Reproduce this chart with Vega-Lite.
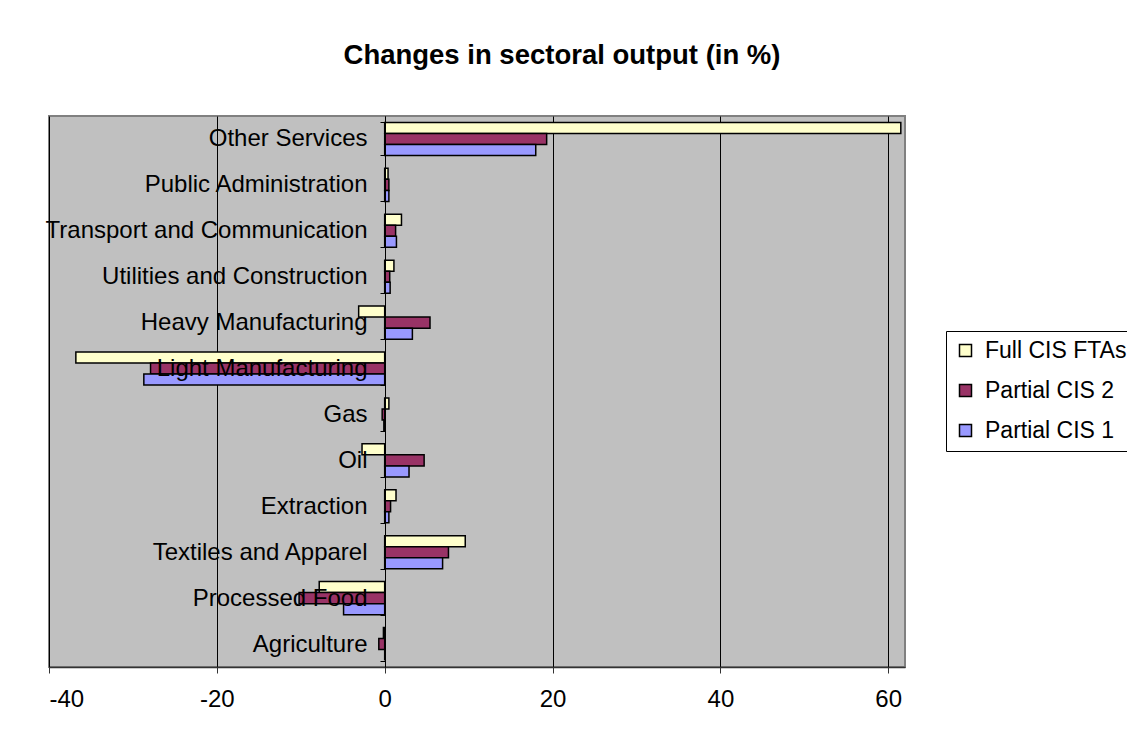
{
  "$schema": "https://vega.github.io/schema/vega-lite/v6.json",
  "autosize": {"type": "none"},
  "padding": {"left": 49, "top": 116, "right": 222, "bottom": 68},
  "width": 856,
  "height": 551,
  "background": "white",
  "title": {
    "text": "Changes in sectoral output (in %)",
    "font": "Liberation Sans",
    "fontSize": 27.5,
    "fontWeight": "bold",
    "color": "black",
    "anchor": "middle",
    "frame": "group",
    "dx": 85,
    "baseline": "bottom",
    "offset": 7
  },
  "data": {
    "values": [
      {"sector": "Other Services", "scenario": "Full CIS FTAs", "value": 61.5},
      {"sector": "Other Services", "scenario": "Partial CIS 2", "value": 19.3},
      {"sector": "Other Services", "scenario": "Partial CIS 1", "value": 18.0},
      {"sector": "Public Administration", "scenario": "Full CIS FTAs", "value": 0.4},
      {"sector": "Public Administration", "scenario": "Partial CIS 2", "value": 0.5},
      {"sector": "Public Administration", "scenario": "Partial CIS 1", "value": 0.5},
      {"sector": "Transport and Communication", "scenario": "Full CIS FTAs", "value": 2.0},
      {"sector": "Transport and Communication", "scenario": "Partial CIS 2", "value": 1.3},
      {"sector": "Transport and Communication", "scenario": "Partial CIS 1", "value": 1.4},
      {"sector": "Utilities and Construction", "scenario": "Full CIS FTAs", "value": 1.1},
      {"sector": "Utilities and Construction", "scenario": "Partial CIS 2", "value": 0.6},
      {"sector": "Utilities and Construction", "scenario": "Partial CIS 1", "value": 0.65},
      {"sector": "Heavy Manufacturing", "scenario": "Full CIS FTAs", "value": -3.1},
      {"sector": "Heavy Manufacturing", "scenario": "Partial CIS 2", "value": 5.4},
      {"sector": "Heavy Manufacturing", "scenario": "Partial CIS 1", "value": 3.3},
      {"sector": "Light Manufacturing", "scenario": "Full CIS FTAs", "value": -36.8},
      {"sector": "Light Manufacturing", "scenario": "Partial CIS 2", "value": -27.9},
      {"sector": "Light Manufacturing", "scenario": "Partial CIS 1", "value": -28.7},
      {"sector": "Gas", "scenario": "Full CIS FTAs", "value": 0.5},
      {"sector": "Gas", "scenario": "Partial CIS 2", "value": -0.3},
      {"sector": "Gas", "scenario": "Partial CIS 1", "value": -0.1},
      {"sector": "Oil", "scenario": "Full CIS FTAs", "value": -2.7},
      {"sector": "Oil", "scenario": "Partial CIS 2", "value": 4.7},
      {"sector": "Oil", "scenario": "Partial CIS 1", "value": 2.9},
      {"sector": "Extraction", "scenario": "Full CIS FTAs", "value": 1.35},
      {"sector": "Extraction", "scenario": "Partial CIS 2", "value": 0.7},
      {"sector": "Extraction", "scenario": "Partial CIS 1", "value": 0.5},
      {"sector": "Textiles and Apparel", "scenario": "Full CIS FTAs", "value": 9.6},
      {"sector": "Textiles and Apparel", "scenario": "Partial CIS 2", "value": 7.6},
      {"sector": "Textiles and Apparel", "scenario": "Partial CIS 1", "value": 6.9},
      {"sector": "Processed Food", "scenario": "Full CIS FTAs", "value": -7.8},
      {"sector": "Processed Food", "scenario": "Partial CIS 2", "value": -10.2},
      {"sector": "Processed Food", "scenario": "Partial CIS 1", "value": -4.9},
      {"sector": "Agriculture", "scenario": "Full CIS FTAs", "value": -0.15},
      {"sector": "Agriculture", "scenario": "Partial CIS 2", "value": -0.7},
      {"sector": "Agriculture", "scenario": "Partial CIS 1", "value": 0.0}
    ]
  },
  "mark": {"type": "bar", "stroke": "black", "strokeWidth": 1.5},
  "encoding": {
    "y": {
      "field": "sector",
      "type": "nominal",
      "sort": ["Other Services", "Public Administration", "Transport and Communication", "Utilities and Construction", "Heavy Manufacturing", "Light Manufacturing", "Gas", "Oil", "Extraction", "Textiles and Apparel", "Processed Food", "Agriculture"],
      "scale": {"paddingInner": 0.28, "paddingOuter": 0.14},
      "axis": {
        "title": null,
        "offset": -336,
        "zindex": 1,
        "tickBand": "extent",
        "tickSize": 5,
        "tickColor": "black",
        "domainColor": "black",
        "domainWidth": 1,
        "labelPadding": 13,
        "labelFont": "Liberation Sans",
        "labelFontSize": 24,
        "labelColor": "black",
        "labelLimit": 0,
        "grid": false
      }
    },
    "yOffset": {
      "field": "scenario",
      "type": "nominal",
      "sort": ["Full CIS FTAs", "Partial CIS 2", "Partial CIS 1"],
      "scale": {"paddingInner": 0, "paddingOuter": 0}
    },
    "x": {
      "field": "value",
      "type": "quantitative",
      "scale": {"domain": [-40, 62], "nice": false, "zero": false},
      "axis": {
        "title": null,
        "values": [-40, -20, 0, 20, 40, 60],
        "labelExpr": "'' + datum.value",
        "grid": true,
        "gridColor": "black",
        "gridWidth": 1,
        "gridOpacity": 1,
        "tickSize": 6,
        "tickColor": "#333333",
        "domainColor": "#333333",
        "domainWidth": 1.5,
        "labelPadding": 14,
        "labelFont": "Liberation Sans",
        "labelFontSize": 24,
        "labelColor": "black"
      }
    },
    "color": {
      "field": "scenario",
      "type": "nominal",
      "sort": ["Full CIS FTAs", "Partial CIS 2", "Partial CIS 1"],
      "scale": {"domain": ["Full CIS FTAs", "Partial CIS 2", "Partial CIS 1"], "range": ["#FFFFCC", "#993366", "#9999FF"]},
      "legend": {
        "title": null,
        "orient": "none",
        "legendX": 897,
        "legendY": 215,
        "fillColor": "white",
        "strokeColor": "black",
        "padding": 8,
        "rowPadding": 16,
        "symbolType": "square",
        "symbolSize": 144,
        "symbolStrokeColor": "black",
        "symbolStrokeWidth": 1.5,
        "symbolOpacity": 1,
        "labelFont": "Liberation Sans",
        "labelFontSize": 23,
        "labelColor": "black",
        "labelOffset": 8,
        "labelLimit": 0
      }
    }
  },
  "config": {
    "view": {"fill": "#C0C0C0", "stroke": "#808080", "strokeWidth": 2}
  }
}
